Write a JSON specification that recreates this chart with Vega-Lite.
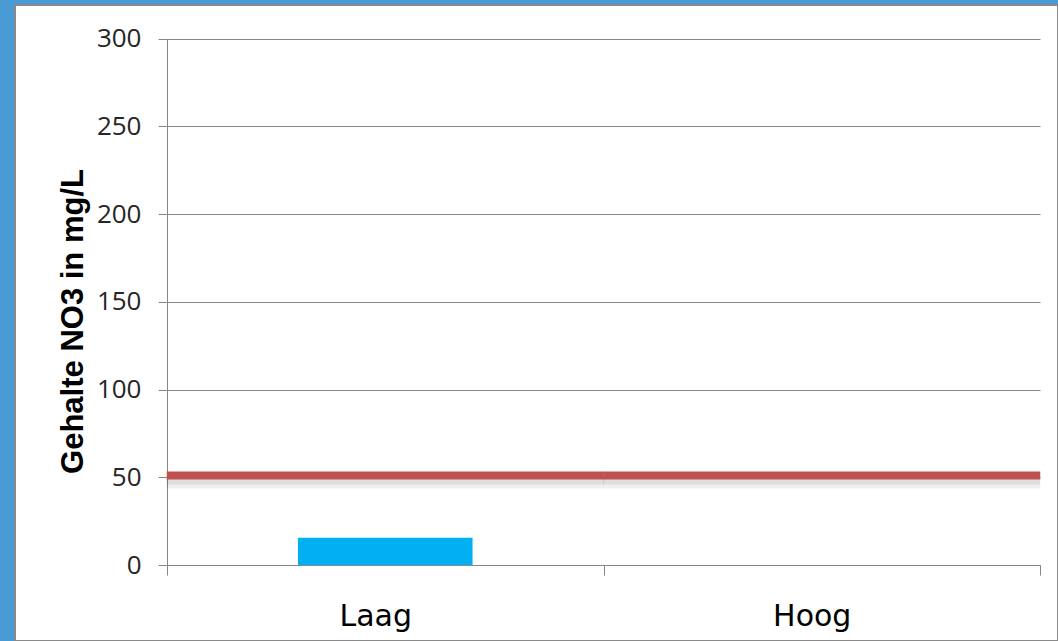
{
  "$schema": "https://vega.github.io/schema/vega-lite/v6.json",
  "width": 1043,
  "height": 636,
  "autosize": {"type": "none"},
  "padding": {"left": 15, "top": 5, "right": 0, "bottom": 0},
  "background": "#4A9BD5",
  "config": {
    "view": {"fill": "#ffffff", "stroke": "#8A8A8A", "strokeWidth": 2}
  },
  "data": {
    "values": [
      {"Categorie": "Laag", "NO3": 15.5, "Norm": 51},
      {"Categorie": "Hoog", "NO3": null, "Norm": 51}
    ]
  },
  "encoding": {
    "x": {
      "field": "Categorie",
      "type": "nominal",
      "sort": ["Laag", "Hoog"],
      "scale": {"type": "band", "domain": ["Laag", "Hoog"], "range": [152, 1025], "paddingInner": 0, "paddingOuter": 0},
      "axis": {
        "orient": "bottom",
        "offset": -76,
        "title": null,
        "tickBand": "extent",
        "tickSize": 10,
        "tickColor": "#868686",
        "domainColor": "#868686",
        "labelFont": "DejaVu Sans",
        "labelFontSize": 30,
        "labelColor": "#000000",
        "labelBaseline": "alphabetic",
        "labelPadding": 50,
        "labelOffset": -10,
        "labelAngle": 0,
        "grid": false
      }
    }
  },
  "layer": [
    {
      "mark": {"type": "bar", "color": "#00B0F0", "width": {"band": 0.4}},
      "encoding": {
        "y": {
          "field": "NO3",
          "type": "quantitative",
          "scale": {"domain": [0, 300], "range": [560, 33.5], "nice": false},
          "axis": {
            "orient": "left",
            "offset": -152,
            "values": [0, 50, 100, 150, 200, 250, 300],
            "tickSize": 9,
            "tickColor": "#868686",
            "domainColor": "#868686",
            "grid": true,
            "gridColor": "#868686",
            "gridWidth": 1,
            "labelFont": "Open Sans",
            "labelFontSize": 26,
            "labelColor": "#262626",
            "labelPadding": 17,
            "title": "Gehalte NO3 in mg/L",
            "titleFont": "Liberation Sans",
            "titleFontSize": 31,
            "titleFontWeight": "bold",
            "titleColor": "#000000",
            "titleAngle": 270,
            "titleAlign": "center",
            "titleBaseline": "alphabetic",
            "titleX": -85,
            "titleY": 316
          }
        }
      }
    },
    {
      "mark": {"type": "tick", "size": 437, "thickness": 10, "color": "#000000", "opacity": 0.06, "yOffset": 8},
      "encoding": {
        "y": {"field": "Norm", "type": "quantitative"}
      }
    },
    {
      "mark": {"type": "tick", "size": 437, "thickness": 6, "color": "#000000", "opacity": 0.08, "yOffset": 6},
      "encoding": {
        "y": {"field": "Norm", "type": "quantitative"}
      }
    },
    {
      "mark": {"type": "tick", "size": 437, "thickness": 8, "color": "#C0504D", "opacity": 1},
      "encoding": {
        "y": {"field": "Norm", "type": "quantitative"}
      }
    }
  ]
}
